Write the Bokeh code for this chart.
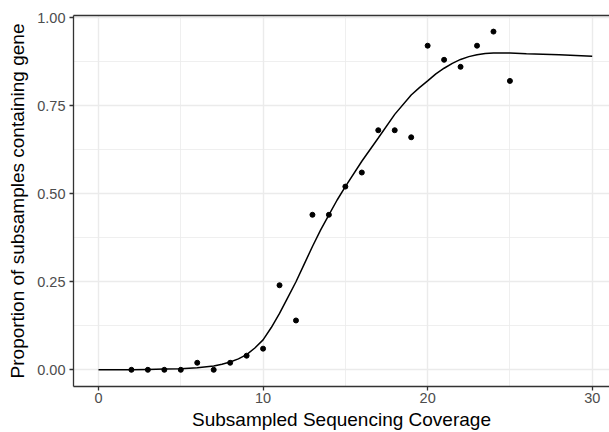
from bokeh.plotting import figure
from bokeh.models import Range1d, FixedTicker, LinearAxis, ColumnDataSource
from bokeh.embed import file_html
from bokeh.resources import INLINE

# ---- data ----
coverage = [2, 3, 4, 5, 6, 7, 8, 9, 10, 11, 12, 13, 14, 15, 16, 17, 18, 19, 20, 21, 22, 23, 24, 25]
proportion = [0.00, 0.00, 0.00, 0.00, 0.02, 0.00, 0.02, 0.04, 0.06, 0.24, 0.14, 0.44, 0.44, 0.52,
              0.56, 0.68, 0.68, 0.66, 0.92, 0.88, 0.86, 0.92, 0.96, 0.82]

fit_x = [0, 1, 2, 3, 4, 5, 6, 7, 7.5, 8, 8.5, 9, 9.5, 10, 10.5, 11, 11.5, 12, 12.5, 13, 13.5,
         14, 14.5, 15, 16, 17, 18, 19, 19.5, 20, 20.5, 21, 21.5, 22, 22.5, 23, 23.5, 24, 25,
         26, 27, 28, 29, 30]
fit_y = [0.000, 0.000, 0.000, 0.001, 0.002, 0.003, 0.006, 0.011, 0.016, 0.022, 0.031, 0.043,
         0.062, 0.085, 0.120, 0.160, 0.205, 0.250, 0.300, 0.350, 0.397, 0.440, 0.482, 0.520,
         0.592, 0.658, 0.725, 0.780, 0.801, 0.820, 0.840, 0.856, 0.870, 0.881, 0.889, 0.894,
         0.898, 0.899, 0.899, 0.897, 0.896, 0.894, 0.892, 0.890]

x_ticks = [0, 10, 20, 30]
x_minor = [5, 15, 25]
y_ticks = [0.0, 0.25, 0.5, 0.75, 1.0]
y_tick_labels = ["0.00", "0.25", "0.50", "0.75", "1.00"]
y_minor = [0.125, 0.375, 0.625, 0.875]

x_title = "Subsampled Sequencing Coverage"
y_title = "Proportion of subsamples containing gene"

FONT = "Liberation Sans"
BORDER = "#333333"
GRID = "#EBEBEB"

p = figure(width=609, height=432, output_backend="svg", toolbar_location=None,
           x_range=Range1d(-1.519, 31.05), y_range=Range1d(-0.0474, 1.0057),
           min_border_left=73, min_border_right=0, min_border_top=15, min_border_bottom=46,
           x_axis_location=None, y_axis_location=None)
p.outline_line_color = None
p.background_fill_color = "white"
p.border_fill_color = "white"

xt = FixedTicker(ticks=x_ticks, minor_ticks=x_minor)
yt = FixedTicker(ticks=y_ticks, minor_ticks=y_minor)

xaxis = LinearAxis(ticker=xt, axis_label=x_title)
yaxis = LinearAxis(ticker=yt, axis_label=y_title)
yaxis.major_label_overrides = {v: s for v, s in zip(y_ticks, y_tick_labels)}
for ax in (xaxis, yaxis):
    ax.axis_line_color = BORDER
    ax.axis_line_width = 1.3
    ax.major_tick_line_color = BORDER
    ax.major_tick_line_width = 1.3
    ax.major_tick_out = 4
    ax.major_tick_in = 0
    ax.minor_tick_line_color = None
    ax.major_label_text_font = FONT
    ax.major_label_text_font_size = "14.5px"
    ax.major_label_text_color = "#4D4D4D"
    ax.axis_label_text_font = FONT
    ax.axis_label_text_font_size = "19px"
    ax.axis_label_text_font_style = "normal"
    ax.axis_label_text_color = "black"
xaxis.major_label_standoff = 2
xaxis.axis_label_standoff = 3
yaxis.major_label_standoff = 4
yaxis.axis_label_standoff = 6
p.add_layout(xaxis, "below")
p.add_layout(yaxis, "left")

top = LinearAxis(ticker=FixedTicker(ticks=[]))
top.axis_line_color = BORDER
top.axis_line_width = 1.3
top.major_tick_line_color = None
top.minor_tick_line_color = None
top.major_label_text_font_size = "0px"
top.major_label_standoff = 0
p.add_layout(top, "above")

p.xgrid.ticker = xt
p.ygrid.ticker = yt
for g in (p.xgrid, p.ygrid):
    g.grid_line_color = GRID
    g.grid_line_width = 1.4
    g.minor_grid_line_color = GRID
    g.minor_grid_line_width = 0.8

src_pts = ColumnDataSource(dict(x=coverage, y=proportion))
src_fit = ColumnDataSource(dict(x=fit_x, y=fit_y))
p.line("x", "y", source=src_fit, line_color="black", line_width=1.5)
p.scatter("x", "y", source=src_pts, size=5, fill_color="black", line_color="black")

open("out.html", "w").write(file_html(p, INLINE))
